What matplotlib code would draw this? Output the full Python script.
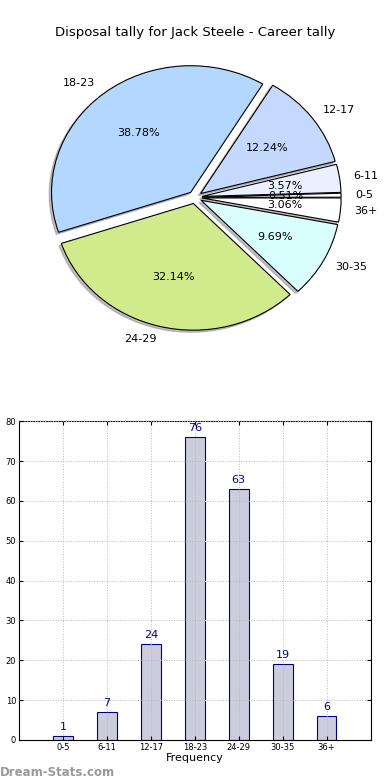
import numpy as np
import matplotlib
matplotlib.use("Agg")
import matplotlib.pyplot as plt
from matplotlib.patches import Shadow

# data
categories = ["0-5", "6-11", "12-17", "18-23", "24-29", "30-35", "36+"]
counts = [1, 7, 24, 76, 63, 19, 6]
pie_colors = ["#ffffff", "#eaf0ff", "#c5d9ff", "#b3d7ff", "#d0ea8c", "#d9ffff", "#ffffff"]
yticks = [0, 10, 20, 30, 40, 50, 60, 70, 80]

fig = plt.figure(figsize=(3.9, 7.8), dpi=100)

# pie chart (old-style, not equal aspect)
ax1 = fig.add_axes([0.054, 0.544, 0.892, 0.406])
wedges, texts, autotexts = ax1.pie(counts, labels=categories, colors=pie_colors,
                                   explode=[0.05] * len(counts),
                                   shadow={"ox": -0.012, "oy": -0.012, "shade": 0.5},
                                   autopct="%1.2f%%", startangle=0,
                                   wedgeprops={"edgecolor": "black", "linewidth": 0.8},
                                   textprops={"fontsize": 8})
# grey shadows like the old renderer
for p in ax1.patches:
    if isinstance(p, Shadow):
        p.set_facecolor("#808080")
        p.set_edgecolor("#808080")
ax1.set_aspect("auto")
ax1.set_xlim(-1.25, 1.25)
ax1.set_ylim(-1.25, 1.25)
ax1.set_title("Disposal tally for Jack Steele - Career tally", fontsize=9.5, pad=0)
ax1.title.set_position((0.5, 0.97))

# bar chart
ax2 = fig.add_axes([0.0487, 0.0513, 0.9013, 0.4087])
x = np.arange(len(categories))
ax2.bar(x, counts, width=0.45, color="#ccccdd", edgecolor="#000080", linewidth=0.8)
for xi, c in zip(x, counts):
    ax2.text(xi, c + 1, str(c), ha="center", va="bottom", color="#000080", fontsize=8)
ax2.set_xlim(-1, 7)
ax2.set_ylim(0, 80)
ax2.set_xticks(x)
ax2.set_xticklabels(categories, fontsize=6)
ax2.set_yticks(yticks)
ax2.tick_params(axis="y", labelsize=6)
ax2.tick_params(direction="in", top=True, right=True, length=3, pad=2)
ax2.set_axisbelow(False)
ax2.grid(True, linestyle=":", color="#b8b8b8", linewidth=0.7)
ax2.set_xlabel("Frequency", fontsize=8, labelpad=1)

fig.text(0.0, 0.005, "Dream-Stats.com", color="#999999", fontsize=8.5, fontweight="bold")

fig.savefig("out.png", dpi=100)
